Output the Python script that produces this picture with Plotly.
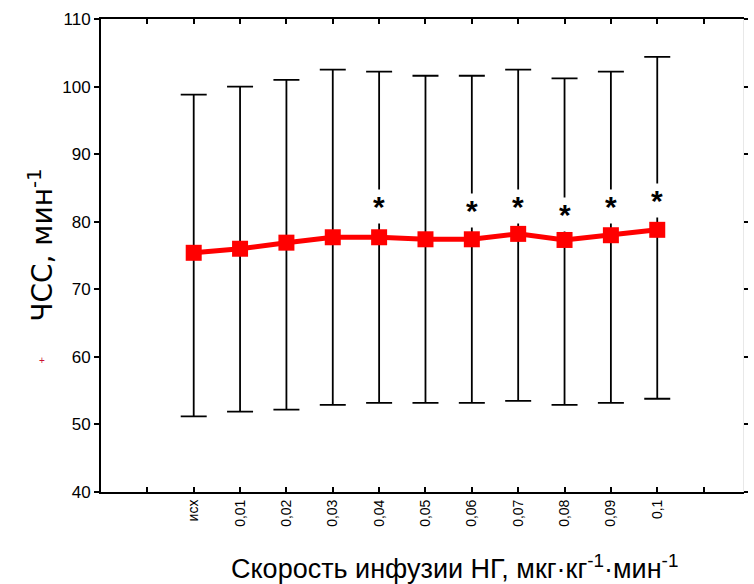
import plotly.graph_objects as go

categories = ["исх", "0,01", "0,02", "0,03", "0,04", "0,05", "0,06", "0,07", "0,08", "0,09", "0,1"]
means = [75.4, 76.0, 76.9, 77.7, 77.7, 77.4, 77.4, 78.2, 77.3, 78.0, 78.8]
upper = [98.8, 100.0, 101.0, 102.5, 102.2, 101.6, 101.6, 102.5, 101.2, 102.2, 104.4]
lower = [51.2, 51.9, 52.2, 52.9, 53.2, 53.2, 53.2, 53.5, 52.9, 53.2, 53.8]
star_idx = [4, 6, 7, 8, 9, 10]
star_y = [82.8, 82.2, 82.8, 81.7, 82.8, 83.8]
y_ticks = [40, 50, 60, 70, 80, 90, 100, 110]

xs = list(range(len(categories)))
err_plus = [u - m for u, m in zip(upper, means)]
err_minus = [m - l for m, l in zip(means, lower)]

fig = go.Figure()
fig.add_trace(go.Scatter(
    x=xs, y=means, mode="lines+markers",
    line=dict(color="#ff0000", width=5),
    marker=dict(symbol="square", size=16, color="#ff0000"),
    error_y=dict(type="data", symmetric=False, array=err_plus, arrayminus=err_minus,
                 color="black", thickness=1.8, width=13),
    showlegend=False,
))
# invisible trace for right axis ticks
fig.add_trace(go.Scatter(x=[xs[0]], y=[means[0]], yaxis="y2", mode="markers",
                         marker=dict(opacity=0), showlegend=False, hoverinfo="skip"))

annotations = []
for i, yv in zip(star_idx, star_y):
    annotations.append(dict(x=i, y=yv, xref="x", yref="y", text="<b>*</b>", showarrow=False,
                            font=dict(size=30, color="black", family="Liberation Sans"),
                            bgcolor="white", borderpad=0, yshift=-4))
annotations.append(dict(x=-0.099, y=0.262, xref="paper", yref="paper", text="+", showarrow=False,
                        font=dict(size=10, color="#cc1133", family="Liberation Sans")))
# axis titles
annotations.append(dict(x=0.551, y=-0.159, xref="paper", yref="paper", showarrow=False,
                        text="Скорость инфузии НГ, мкг·кг<sup>-1</sup>·мин<sup>-1</sup>",
                        font=dict(size=27, family="Liberation Sans", color="black"),
                        xanchor="center", yanchor="middle"))
annotations.append(dict(x=-0.094, y=0.522, xref="paper", yref="paper", showarrow=False,
                        text="ЧСС, мин<sup>-1</sup>", textangle=-90,
                        font=dict(size=28, family="DejaVu Sans", color="black"),
                        xanchor="center", yanchor="middle"))
fig.update_layout(annotations=annotations)

tickvals = [-1] + xs + [len(categories)]
ticktext = [""] + categories + [""]

fig.update_layout(
    width=754, height=584,
    margin=dict(l=101, r=7, t=19, b=92),
    paper_bgcolor="white", plot_bgcolor="white",
    font=dict(family="Liberation Sans", color="black"),
    xaxis=dict(range=[-2, 11.85], tickvals=tickvals, ticktext=ticktext,
               tickangle=-90, ticks="inside", ticklen=5, tickwidth=1.5, tickcolor="black",
               showline=True, linecolor="black", linewidth=2, mirror="ticks",
               showgrid=False, zeroline=False, tickfont=dict(size=14)),
    yaxis=dict(range=[40, 110], tickvals=y_ticks, ticks="outside", ticklen=5, tickwidth=1.5,
               tickcolor="black", showline=True, linecolor="black", linewidth=2,
               showgrid=False, zeroline=False, tickfont=dict(size=17)),
    yaxis2=dict(range=[40, 110], tickvals=y_ticks, overlaying="y", side="right",
                ticks="outside", ticklen=4, tickwidth=1.5, tickcolor="black",
                showticklabels=False, showline=True, linecolor="#e8e8e8", linewidth=1,
                showgrid=False, zeroline=False),
)

fig.write_html("out.html")
